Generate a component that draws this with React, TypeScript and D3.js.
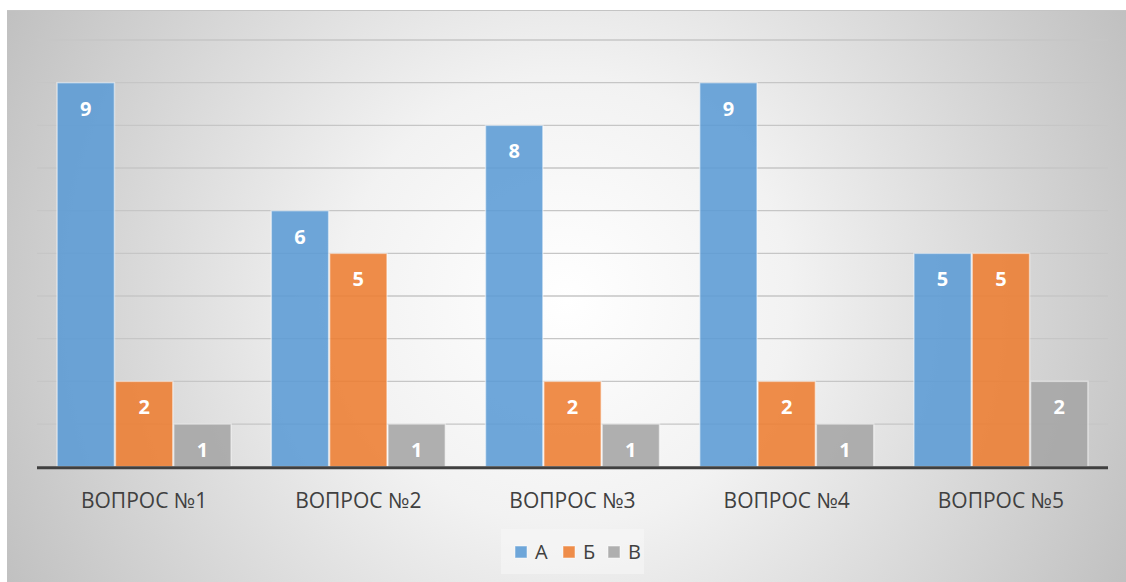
import React from "react";
import * as d3 from "d3";

const categories = ["ВОПРОС №1", "ВОПРОС №2", "ВОПРОС №3", "ВОПРОС №4", "ВОПРОС №5"];
const seriesNames = ["А", "Б", "В"];
const valuesA = [9, 6, 8, 9, 5];
const valuesB = [2, 5, 2, 2, 5];
const valuesV = [1, 1, 1, 1, 2];
const seriesColors = ["#5b9bd5", "#ed7d31", "#a5a5a5"];
const gridTicks = [1, 2, 3, 4, 5, 6, 7, 8, 9, 10];

const W = 1126;
const H = 582;
const FONT = "'Open Sans', sans-serif";

export default function App() {
  const series = [valuesA, valuesB, valuesV];
  const plotLeft = 37;
  const plotRight = 1108;
  const y = d3.scaleLinear().domain([0, 10]).range([466.7, 40]);
  const x0 = d3
    .scaleBand<string>()
    .domain(categories)
    .range([plotLeft, plotRight])
    .paddingInner(0.183)
    .paddingOuter(0.0915);
  const x1 = d3
    .scaleBand<string>()
    .domain(seriesNames)
    .range([0, x0.bandwidth()])
    .padding(0);

  const legendX = [515, 563, 608];

  return (
    <svg
      width={W}
      height={H}
      style={{ position: "absolute", left: 0, top: 0 }}
    >
      <defs>
        <radialGradient
          id="bg"
          gradientUnits="userSpaceOnUse"
          cx={566}
          cy={300}
          r={640}
        >
          <stop offset="0" stopColor="#ffffff" />
          <stop offset="0.35" stopColor="#f2f2f2" />
          <stop offset="1" stopColor="#bfbfbf" />
        </radialGradient>
      </defs>
      <rect x={0} y={0} width={W} height={H} fill="#ffffff" />
      <rect x={7} y={10} width={W - 7} height={H - 10} fill="url(#bg)" />
      <line x1={7} x2={W} y1={10.5} y2={10.5} stroke="#c4c4c4" strokeWidth={1} />

      {gridTicks.map((t) => (
        <line
          key={t}
          x1={plotLeft}
          x2={plotRight}
          y1={y(t)}
          y2={y(t)}
          stroke="#c6c6c6"
          strokeWidth={1.3}
        />
      ))}

      {categories.map((c, ci) => (
        <g key={c} transform={`translate(${x0(c)},0)`}>
          {seriesNames.map((s, si) => {
            const v = series[si][ci];
            const bx = x1(s)!;
            const top = y(v);
            return (
              <g key={s}>
                <rect
                  x={bx + 0.5}
                  y={top}
                  width={x1.bandwidth() - 1}
                  height={y(0) - top}
                  fill={seriesColors[si]}
                  fillOpacity={0.88}
                  stroke="#ffffff"
                  strokeOpacity={0.5}
                  strokeWidth={1.5}
                />
                <text
                  x={bx + x1.bandwidth() / 2}
                  y={top + 33}
                  textAnchor="middle"
                  fill="#ffffff"
                  fontFamily={FONT}
                  fontWeight={700}
                  fontSize={20}
                >
                  {v}
                </text>
              </g>
            );
          })}
          <text
            x={x0.bandwidth() / 2}
            y={508}
            textAnchor="middle"
            fill="#404040"
            fontFamily={FONT}
            fontSize={21}
          >
            {c}
          </text>
        </g>
      ))}

      <line
        x1={plotLeft}
        x2={plotRight}
        y1={y(0) + 1}
        y2={y(0) + 1}
        stroke="#404040"
        strokeWidth={3}
      />

      <rect x={501} y={529} width={143} height={45} fill="#f7f7f7" fillOpacity={0.6} />
      {seriesNames.map((s, si) => (
        <g key={s}>
          <rect
            x={legendX[si]}
            y={546}
            width={12}
            height={12}
            fill={seriesColors[si]}
            fillOpacity={0.88}
            stroke="#ffffff"
            strokeOpacity={0.5}
            strokeWidth={1}
          />
          <text
            x={legendX[si] + 20}
            y={558.5}
            fill="#404040"
            fontFamily={FONT}
            fontSize={20}
          >
            {s}
          </text>
        </g>
      ))}
    </svg>
  );
}
